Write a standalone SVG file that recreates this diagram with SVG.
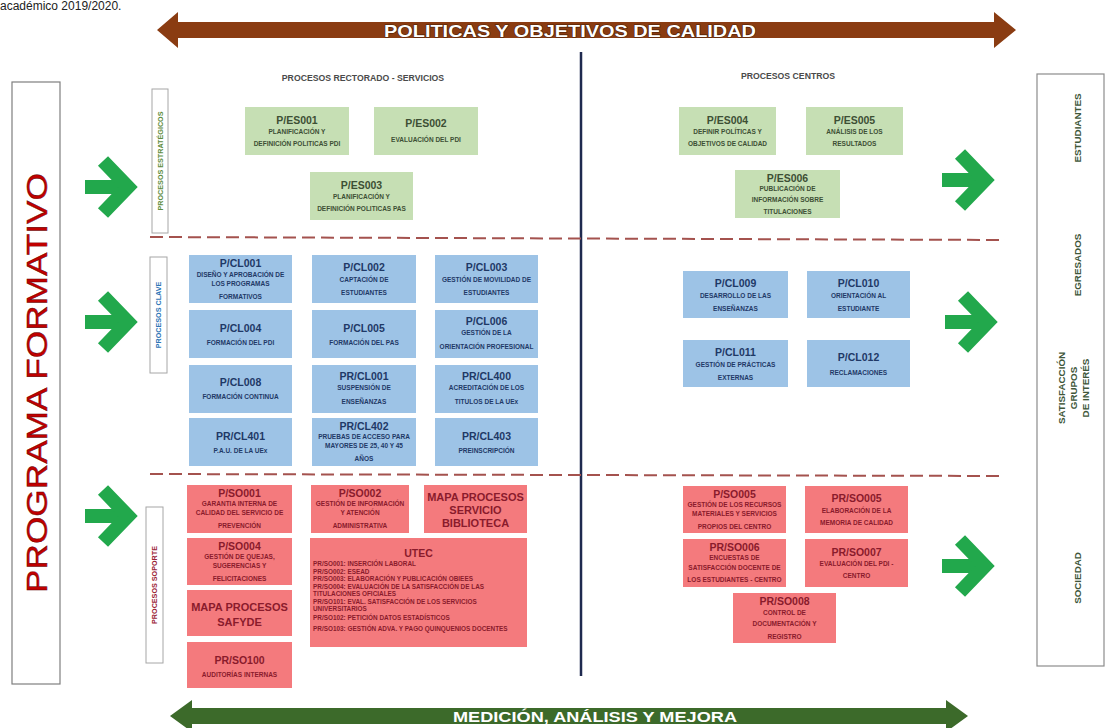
<svg xmlns="http://www.w3.org/2000/svg" width="1106" height="728" viewBox="0 0 1106 728">
<style>
text{font-family:"Liberation Sans",Arial,sans-serif}
.t{font-size:10.5px;font-weight:bold;text-anchor:middle}
.d{font-size:6.5px;font-weight:bold;text-anchor:middle}
.m{font-size:11px;font-weight:bold;text-anchor:middle}
.u{font-size:6.4px;font-weight:bold;text-anchor:start}
.g rect{fill:#c6dfb4}
.g text{fill:#3d4f34}
.b rect{fill:#9dc3e6}
.b text{fill:#1f3966}
.r rect{fill:#f47a7d}
.r text{fill:#8a1b2c}
.cat rect{fill:#fff;stroke:#a6a6a6;stroke-width:1}
.cat text{font-size:7.2px;font-weight:bold;text-anchor:middle;dominant-baseline:central}
.grp text{font-size:9.8px;font-weight:bold;text-anchor:middle;dominant-baseline:central;fill:#40573a}
.ga path{stroke:#22a84c;fill:none;stroke-width:14}
.dash{stroke:#a4524e;stroke-width:2;stroke-dasharray:13 6}
.hdr{font-size:8.7px;font-weight:bold;fill:#4a4a4a;text-anchor:middle}
</style>
<defs>
<g id="garrow" class="ga">
<path d="M0 0 H40"/>
<path d="M18 -26 L43 0 L18 26" stroke-linejoin="miter" stroke-miterlimit="4"/>
</g>
</defs>
<rect width="1106" height="728" fill="#ffffff"/>
<text x="0" y="10" font-size="12" fill="#222">académico 2019/2020.</text>

<g id="connectors">
<path d="M157 30 L178 12 L178 22 L994 22 L994 12 L1016 30 L994 48 L994 38 L178 38 L178 48 Z" fill="#8a3c12"/>
<text x="570" y="37" font-size="17" font-weight="bold" fill="#fff" stroke="#4a1e06" stroke-width="1.2" paint-order="stroke" text-anchor="middle" textLength="372" lengthAdjust="spacingAndGlyphs">POLITICAS Y OBJETIVOS DE CALIDAD</text>
<path d="M170 716 L192 700 L192 708 L946 708 L946 700 L968 716 L946 732 L946 724 L192 724 L192 732 Z" fill="#3c6a2a"/>
<text x="595" y="722" font-size="14" font-weight="bold" fill="#fff" text-anchor="middle" textLength="284" lengthAdjust="spacingAndGlyphs">MEDICIÓN, ANÁLISIS Y MEJORA</text>
<use href="#garrow" transform="translate(85,187)"/>
<use href="#garrow" transform="translate(85,322)"/>
<use href="#garrow" transform="translate(85,516)"/>
<use href="#garrow" transform="translate(942,180)"/>
<use href="#garrow" transform="translate(945,322)"/>
<use href="#garrow" transform="translate(942,566)"/>
</g>

<g id="frame">
<line x1="581" y1="52" x2="581" y2="676" stroke="#1f2a4f" stroke-width="2.5"/>
<line class="dash" x1="150" y1="237" x2="1005" y2="240"/>
<line class="dash" x1="150" y1="474" x2="1005" y2="476"/>
<text class="hdr" x="363" y="81">PROCESOS RECTORADO - SERVICIOS</text>
<text class="hdr" x="788" y="79">PROCESOS CENTROS</text>
</g>

<g id="programa-formativo">
<rect x="12" y="82" width="48" height="602" fill="#fff" stroke="#7f7f7f" stroke-width="1.2"/>
<text transform="translate(36,383) rotate(-90)" font-size="30" fill="#c00000" text-anchor="middle" dominant-baseline="central" stroke="#5a0000" stroke-width="0.4" textLength="420" lengthAdjust="spacingAndGlyphs">PROGRAMA FORMATIVO</text>
</g>

<g id="cat-estrategicos" class="cat">
<rect x="152" y="89" width="16" height="144"/>
<text transform="translate(160,161) rotate(-90)" fill="#5e8d3e">PROCESOS ESTRATÉGICOS</text>
</g>
<g id="cat-clave" class="cat">
<rect x="150" y="257" width="17" height="116"/>
<text transform="translate(158.5,315) rotate(-90)" fill="#2e75b6">PROCESOS CLAVE</text>
</g>
<g id="cat-soporte" class="cat">
<rect x="146" y="507" width="17" height="156"/>
<text transform="translate(154.5,585) rotate(-90)" fill="#9b2335">PROCESOS SOPORTE</text>
</g>

<g id="grupos-interes" class="grp">
<rect x="1037" y="74" width="67" height="592" fill="#fff" stroke="#8c8c8c" stroke-width="1.2"/>
<text transform="translate(1077,128) rotate(-90)">ESTUDIANTES</text>
<text transform="translate(1077,265) rotate(-90)">EGRESADOS</text>
<text transform="translate(1061,388) rotate(-90)">SATISFACCIÓN</text>
<text transform="translate(1073,388) rotate(-90)">GRUPOS</text>
<text transform="translate(1085,388) rotate(-90)">DE INTERÉS</text>
<text transform="translate(1077,578) rotate(-90)">SOCIEDAD</text>
</g>

<!-- Estrategicos -->
<g id="PES001" class="g"><rect x="245" y="107" width="104" height="48"/>
<text class="t" x="297" y="124">P/ES001</text><text class="d" x="297" y="134">PLANIFICACIÓN Y</text><text class="d" x="297" y="146">DEFINICIÓN POLITICAS PDI</text></g>
<g id="PES002" class="g"><rect x="374" y="107" width="104" height="48"/>
<text class="t" x="426" y="127">P/ES002</text><text class="d" x="426" y="142">EVALUACIÓN DEL PDI</text></g>
<g id="PES003" class="g"><rect x="310" y="172" width="103" height="48"/>
<text class="t" x="361.5" y="189">P/ES003</text><text class="d" x="361.5" y="199">PLANIFICACIÓN Y</text><text class="d" x="361.5" y="211">DEFINICIÓN POLITICAS PAS</text></g>
<g id="PES004" class="g"><rect x="679" y="107" width="97" height="48"/>
<text class="t" x="727.5" y="124">P/ES004</text><text class="d" x="727.5" y="134">DEFINIR POLÍTICAS Y</text><text class="d" x="727.5" y="146">OBJETIVOS DE CALIDAD</text></g>
<g id="PES005" class="g"><rect x="806" y="107" width="97" height="48"/>
<text class="t" x="854.5" y="124">P/ES005</text><text class="d" x="854.5" y="134">ANÁLISIS DE LOS</text><text class="d" x="854.5" y="146">RESULTADOS</text></g>
<g id="PES006" class="g"><rect x="735" y="170" width="105" height="48"/>
<text class="t" x="787.5" y="182">P/ES006</text><text class="d" x="787.5" y="191">PUBLICACIÓN DE</text><text class="d" x="787.5" y="202">INFORMACIÓN SOBRE</text><text class="d" x="787.5" y="214">TITULACIONES</text></g>

<!-- Clave -->
<g id="PCL001" class="b"><rect x="189" y="255" width="103" height="48"/>
<text class="t" x="240.5" y="267">P/CL001</text><text class="d" x="240.5" y="277">DISEÑO Y APROBACIÓN DE</text><text class="d" x="240.5" y="286">LOS PROGRAMAS</text><text class="d" x="240.5" y="299">FORMATIVOS</text></g>
<g id="PCL002" class="b"><rect x="312" y="255" width="104" height="48"/>
<text class="t" x="364" y="271">P/CL002</text><text class="d" x="364" y="282">CAPTACIÓN DE</text><text class="d" x="364" y="295">ESTUDIANTES</text></g>
<g id="PCL003" class="b"><rect x="435" y="255" width="103" height="48"/>
<text class="t" x="486.5" y="271">P/CL003</text><text class="d" x="486.5" y="282">GESTIÓN DE MOVILIDAD DE</text><text class="d" x="486.5" y="295">ESTUDIANTES</text></g>
<g id="PCL004" class="b"><rect x="189" y="310" width="103" height="48"/>
<text class="t" x="240.5" y="332">P/CL004</text><text class="d" x="240.5" y="345">FORMACIÓN DEL PDI</text></g>
<g id="PCL005" class="b"><rect x="312" y="310" width="104" height="48"/>
<text class="t" x="364" y="332">P/CL005</text><text class="d" x="364" y="345">FORMACIÓN DEL PAS</text></g>
<g id="PCL006" class="b"><rect x="435" y="310" width="103" height="48"/>
<text class="t" x="486.5" y="325">P/CL006</text><text class="d" x="486.5" y="335">GESTIÓN DE LA</text><text class="d" x="486.5" y="349">ORIENTACIÓN PROFESIONAL</text></g>
<g id="PCL008" class="b"><rect x="189" y="365" width="103" height="48"/>
<text class="t" x="240.5" y="386">P/CL008</text><text class="d" x="240.5" y="399">FORMACIÓN CONTINUA</text></g>
<g id="PRCL001" class="b"><rect x="312" y="365" width="104" height="48"/>
<text class="t" x="364" y="380">PR/CL001</text><text class="d" x="364" y="390">SUSPENSIÓN DE</text><text class="d" x="364" y="404">ENSEÑANZAS</text></g>
<g id="PRCL400" class="b"><rect x="435" y="365" width="103" height="48"/>
<text class="t" x="486.5" y="380">PR/CL400</text><text class="d" x="486.5" y="390">ACREDITACIÓN DE LOS</text><text class="d" x="486.5" y="404">TITULOS DE LA UEx</text></g>
<g id="PRCL401" class="b"><rect x="189" y="418" width="103" height="48"/>
<text class="t" x="240.5" y="440">PR/CL401</text><text class="d" x="240.5" y="453">P.A.U. DE LA UEx</text></g>
<g id="PRCL402" class="b"><rect x="312" y="418" width="104" height="48"/>
<text class="t" x="364" y="430">PR/CL402</text><text class="d" x="364" y="439">PRUEBAS DE ACCESO PARA</text><text class="d" x="364" y="448">MAYORES DE 25, 40 Y 45</text><text class="d" x="364" y="461">AÑOS</text></g>
<g id="PRCL403" class="b"><rect x="435" y="418" width="103" height="48"/>
<text class="t" x="486.5" y="440">PR/CL403</text><text class="d" x="486.5" y="453">PREINSCRIPCIÓN</text></g>
<g id="PCL009" class="b"><rect x="683" y="271" width="105" height="47"/>
<text class="t" x="735.5" y="287">P/CL009</text><text class="d" x="735.5" y="298">DESARROLLO DE LAS</text><text class="d" x="735.5" y="311">ENSEÑANZAS</text></g>
<g id="PCL010" class="b"><rect x="807" y="271" width="103" height="47"/>
<text class="t" x="858.5" y="287">P/CL010</text><text class="d" x="858.5" y="298">ORIENTACIÓN AL</text><text class="d" x="858.5" y="311">ESTUDIANTE</text></g>
<g id="PCL011" class="b"><rect x="683" y="340" width="105" height="47"/>
<text class="t" x="735.5" y="356">P/CL011</text><text class="d" x="735.5" y="367">GESTIÓN DE PRÁCTICAS</text><text class="d" x="735.5" y="380">EXTERNAS</text></g>
<g id="PCL012" class="b"><rect x="807" y="340" width="103" height="47"/>
<text class="t" x="858.5" y="361">P/CL012</text><text class="d" x="858.5" y="375">RECLAMACIONES</text></g>

<!-- Soporte -->
<g id="PSO001" class="r"><rect x="187" y="485" width="105" height="48"/>
<text class="t" x="239.5" y="497">P/SO001</text><text class="d" x="239.5" y="506">GARANTIA INTERNA DE</text><text class="d" x="239.5" y="515">CALIDAD DEL SERVICIO DE</text><text class="d" x="239.5" y="528">PREVENCIÓN</text></g>
<g id="PSO002" class="r"><rect x="311" y="485" width="98" height="48"/>
<text class="t" x="360" y="497">P/SO002</text><text class="d" x="360" y="506">GESTIÓN DE INFORMACIÓN</text><text class="d" x="360" y="515">Y ATENCIÓN</text><text class="d" x="360" y="528">ADMINISTRATIVA</text></g>
<g id="MAPA-BIBLIOTECA" class="r"><rect x="424" y="485" width="103" height="48"/>
<text class="m" x="475.5" y="501">MAPA PROCESOS</text><text class="m" x="475.5" y="514">SERVICIO</text><text class="m" x="475.5" y="527">BIBLIOTECA</text></g>
<g id="PSO004" class="r"><rect x="187" y="538" width="105" height="47"/>
<text class="t" x="239.5" y="550">P/SO004</text><text class="d" x="239.5" y="559">GESTIÓN DE QUEJAS,</text><text class="d" x="239.5" y="568">SUGERENCIAS Y</text><text class="d" x="239.5" y="581">FELICITACIONES</text></g>
<g id="UTEC" class="r"><rect x="310" y="538" width="217" height="109"/>
<text class="t" x="418.5" y="557">UTEC</text>
<text class="u" x="313" y="566">PR/SO001: INSERCIÓN LABORAL</text>
<text class="u" x="313" y="573.5">PR/SO002: ESEAD</text>
<text class="u" x="313" y="581">PR/SO003: ELABORACIÓN Y PUBLICACIÓN OBIEES</text>
<text class="u" x="313" y="588.5">PR/SO004: EVALUACIÓN DE LA SATISFACCIÓN DE LAS</text>
<text class="u" x="313" y="596">TITULACIONES OFICIALES</text>
<text class="u" x="313" y="603.5">PR/SO101: EVAL. SATISFACCIÓN DE LOS SERVICIOS</text>
<text class="u" x="313" y="611">UNIVERSITARIOS</text>
<text class="u" x="313" y="620">PR/SO102: PETICIÓN DATOS ESTADÍSTICOS</text>
<text class="u" x="313" y="631">PR/SO103: GESTIÓN ADVA. Y PAGO QUINQUENIOS DOCENTES</text></g>
<g id="MAPA-SAFYDE" class="r"><rect x="187" y="590" width="105" height="46"/>
<text class="m" x="239.5" y="611">MAPA PROCESOS</text><text class="m" x="239.5" y="626">SAFYDE</text></g>
<g id="PRSO100" class="r"><rect x="187" y="642" width="105" height="46"/>
<text class="t" x="239.5" y="664">PR/SO100</text><text class="d" x="239.5" y="677">AUDITORÍAS INTERNAS</text></g>
<g id="PSO005" class="r"><rect x="683" y="486" width="103" height="47"/>
<text class="t" x="734.5" y="498">P/SO005</text><text class="d" x="734.5" y="507">GESTIÓN DE LOS RECURSOS</text><text class="d" x="734.5" y="516">MATERIALES Y SERVICIOS</text><text class="d" x="734.5" y="529">PROPIOS DEL CENTRO</text></g>
<g id="PRSO005" class="r"><rect x="805" y="486" width="103" height="47"/>
<text class="t" x="856.5" y="502">PR/SO005</text><text class="d" x="856.5" y="513">ELABORACIÓN DE LA</text><text class="d" x="856.5" y="525">MEMORIA DE CALIDAD</text></g>
<g id="PRSO006" class="r"><rect x="683" y="539" width="103" height="48"/>
<text class="t" x="734.5" y="551">PR/SO006</text><text class="d" x="734.5" y="560">ENCUESTAS DE</text><text class="d" x="734.5" y="570">SATISFACCIÓN DOCENTE DE</text><text class="d" x="734.5" y="582">LOS ESTUDIANTES - CENTRO</text></g>
<g id="PRSO007" class="r"><rect x="805" y="539" width="103" height="48"/>
<text class="t" x="856.5" y="556">PR/SO007</text><text class="d" x="856.5" y="566">EVALUACIÓN DEL PDI -</text><text class="d" x="856.5" y="578">CENTRO</text></g>
<g id="PRSO008" class="r"><rect x="733" y="593" width="103" height="50"/>
<text class="t" x="784.5" y="605">PR/SO008</text><text class="d" x="784.5" y="615">CONTROL DE</text><text class="d" x="784.5" y="626">DOCUMENTACIÓN Y</text><text class="d" x="784.5" y="639">REGISTRO</text></g>
</svg>
